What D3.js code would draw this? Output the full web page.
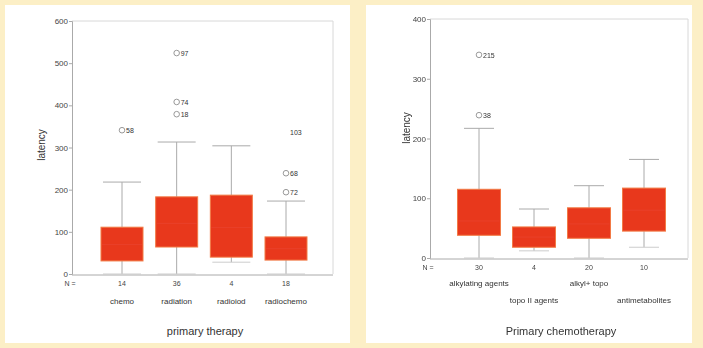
<!DOCTYPE html>
<html><head><meta charset="utf-8">
<script src="https://cdn.jsdelivr.net/npm/d3@7"></script>
<style>
html,body{margin:0;padding:0;background:#fcefc6;}
svg{display:block;filter:blur(0.35px);}
text{font-family:"Liberation Sans",Arial,sans-serif;}
</style></head>
<body>
<svg id="c" width="703" height="348"></svg>
<script>
// ---- data: left panel (primary therapy) ----
const therapyCats = ["chemo","radiation","radioiod","radiochemo"];
const therapyN = ["14","36","4","18"];
const therapyMin = [0, 0, 28, 0];
const therapyQ1 = [31, 64, 40, 33];
const therapyMed = [70, 120, 110, 60];
const therapyQ3 = [111, 183, 187, 88];
const therapyMax = [218, 313, 304, 173];
const therapyOutliers = [
  {cat:"chemo", v:341, label:"58"},
  {cat:"radiation", v:524, label:"97"},
  {cat:"radiation", v:408, label:"74"},
  {cat:"radiation", v:379, label:"18"},
  {cat:"radiochemo", v:336, label:"103", star:true},
  {cat:"radiochemo", v:239, label:"68"},
  {cat:"radiochemo", v:194, label:"72"}
];
const therapyTicks = [0,100,200,300,400,500,600];

// ---- data: right panel (primary chemotherapy) ----
const chemoCats = ["alkylating agents","topo II agents","alkyl+ topo","antimetabolites"];
const chemoN = ["30","4","20","10"];
const chemoMin = [0, 12, 0, 18];
const chemoQ1 = [38, 18, 33, 45];
const chemoMed = [62, 35, 57, 80];
const chemoQ3 = [115, 52, 84, 117];
const chemoMax = [217, 82, 121, 165];
const chemoOutliers = [
  {cat:"alkylating agents", v:340, label:"215"},
  {cat:"alkylating agents", v:239, label:"38"}
];
const chemoTicks = [0,100,200,300,400];

const svg = d3.select("#c");

// panels
svg.append("rect").attr("x",5).attr("y",5).attr("width",345).attr("height",338).attr("fill","#ffffff");
svg.append("rect").attr("x",366).attr("y",5).attr("width",326).attr("height",338).attr("fill","#ffffff");

function panel(o){
  const g = svg.append("g");
  const y = d3.scaleLinear().domain(o.domain).range([o.bottom, o.top]);
  const x = d3.scalePoint().domain(o.cats).range(o.xr);
  // frame
  g.append("line").attr("x1",o.left).attr("x2",o.right).attr("y1",o.top).attr("y2",o.top).attr("stroke","#d8d8d8");
  g.append("line").attr("x1",o.right).attr("x2",o.right).attr("y1",o.top).attr("y2",o.bottom).attr("stroke","#d8d8d8");
  // axes
  const ya = d3.axisLeft(y).tickValues(o.ticks).tickSize(3).tickFormat(d3.format("d"));
  const yg = g.append("g").attr("transform",`translate(${o.left},0)`).call(ya);
  yg.select(".domain").attr("stroke","#aaa");
  yg.selectAll(".tick line").attr("stroke","#aaa");
  yg.selectAll(".tick text").attr("fill","#444").attr("font-size",8).attr("x",-4);
  g.append("line").attr("x1",o.left).attr("x2",o.right).attr("y1",o.bottom+1).attr("y2",o.bottom+1).attr("stroke","#aaa");

  o.cats.forEach((c,i)=>{
    const cx = x(c);
    // whiskers
    g.append("line").attr("x1",cx).attr("x2",cx).attr("y1",y(o.max[i])).attr("y2",y(o.q3[i])).attr("stroke","#aaa");
    g.append("line").attr("x1",cx).attr("x2",cx).attr("y1",y(o.q1[i])).attr("y2",y(o.min[i])).attr("stroke","#aaa");
    g.append("line").attr("x1",cx-o.cap/2).attr("x2",cx+o.cap/2).attr("y1",y(o.max[i])).attr("y2",y(o.max[i])).attr("stroke","#aaa");
    g.append("line").attr("x1",cx-o.cap/2).attr("x2",cx+o.cap/2).attr("y1",y(o.min[i])).attr("y2",y(o.min[i])).attr("stroke","#ccc");
    // box
    g.append("rect").attr("x",cx-o.bw/2).attr("y",y(o.q3[i])).attr("width",o.bw)
      .attr("height",y(o.q1[i])-y(o.q3[i])).attr("fill","#e8381c").attr("stroke","#f27a45").attr("stroke-width",1);
    g.append("line").attr("x1",cx-o.bw/2+1).attr("x2",cx+o.bw/2-1).attr("y1",y(o.med[i])).attr("y2",y(o.med[i])).attr("stroke","#e9402a");
    // N
    g.append("text").attr("x",cx).attr("y",o.bottom+12).attr("text-anchor","middle").attr("font-size",7).attr("fill","#444").text(o.n[i]);
    // category label
    const ly = o.stagger ? (i%2===0 ? o.bottom+28 : o.bottom+45) : o.bottom+30;
    g.append("text").attr("x",cx).attr("y",ly).attr("text-anchor","middle").attr("font-size",8).attr("fill","#333").text(c);
  });
  g.append("text").attr("x",o.left-2).attr("y",o.bottom+12).attr("text-anchor","middle").attr("font-size",7).attr("fill","#444").text("N =");
  // outliers
  o.outliers.forEach(d=>{
    const cx = x(d.cat), cy = y(d.v);
    if(!d.star){
      g.append("circle").attr("cx",cx).attr("cy",cy).attr("r",2.8).attr("fill","#fff").attr("stroke","#999");
    }
    g.append("text").attr("x",cx+4).attr("y",cy+3).attr("font-size",7).attr("fill","#333").text(d.label);
  });
  // titles
  g.append("text").attr("x",o.xt).attr("y",335).attr("text-anchor","middle").attr("font-size",11).attr("fill","#333").text(o.title);
  g.append("text").attr("transform",`translate(${o.yx},${o.yy}) rotate(-90)`).attr("text-anchor","middle").attr("font-size",10).attr("fill","#333").text("latency");
}

panel({cats:therapyCats,n:therapyN,min:therapyMin,q1:therapyQ1,med:therapyMed,q3:therapyQ3,max:therapyMax,
  outliers:therapyOutliers,ticks:therapyTicks,domain:[0,600],top:21,bottom:274,left:72,right:333,
  xr:[122,286],bw:42,cap:38,stagger:false,title:"primary therapy",xt:205,yx:45,yy:145});

panel({cats:chemoCats,n:chemoN,min:chemoMin,q1:chemoQ1,med:chemoMed,q3:chemoQ3,max:chemoMax,
  outliers:chemoOutliers,ticks:chemoTicks,domain:[0,400],top:19,bottom:258,left:430,right:688,
  xr:[479,644],bw:43,cap:30,stagger:true,title:"Primary chemotherapy",xt:561,yx:410,yy:128});
</script>
</body></html>
